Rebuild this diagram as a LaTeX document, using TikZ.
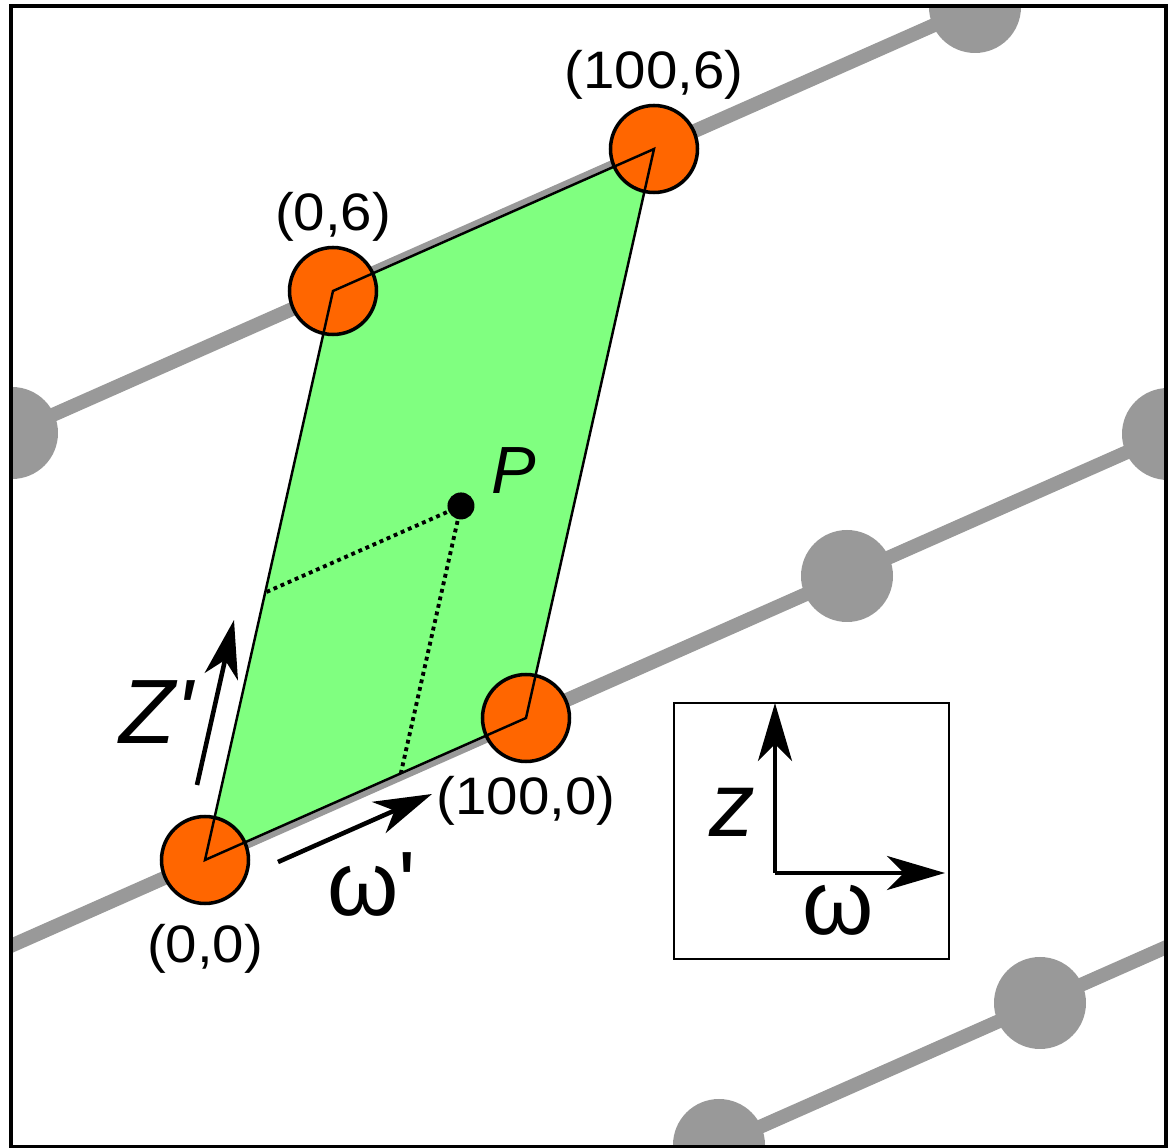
\documentclass[tikz,border=0pt]{standalone}
\usepackage{fontspec}
\setmainfont{Liberation Sans}[Ligatures=TeXOff]
\newfontfamily\coordfont{Liberation Sans}[FakeStretch=1.07, Ligatures=TeXOff]
\usetikzlibrary{arrows.meta, positioning}

\definecolor{latgray}{RGB}{153,153,153}
\definecolor{cellgreen}{RGB}{128,255,128}
\definecolor{siteorange}{RGB}{255,102,0}

\begin{document}
\begin{tikzpicture}[
    lattice line/.style={latgray, line width=0.14cm},
    lattice dot/.style={circle, fill=latgray, inner sep=0pt, minimum size=0.92cm},
    site/.style={circle, draw, line width=1pt, fill=siteorange, inner sep=0pt, minimum size=0.87cm},
    cell edge/.style={line width=0.7pt},
    proj line/.style={line width=1.1pt, dash pattern=on 1.1pt off 1.1pt},
    coord label/.style={inner sep=1pt, font=\coordfont\fontsize{15pt}{18pt}\selectfont},
    axis label/.style={inner sep=0pt, font=\fontsize{26pt}{30pt}\selectfont},
    axis arrow/.style={line width=1.3pt, -{Stealth[length=5.8mm, width=3.4mm, inset=1.7mm]}}
]
\useasboundingbox (0,0) rectangle (11.71,11.48);

% Lattice rows and grey sites, clipped to the frame
\begin{scope}
  \clip (0.11,0.01) rectangle (11.66,11.42);
  \begin{scope}[shift={(2.05,2.88)}, x={(3.21cm,1.42cm)}, y={(1.28cm,5.69cm)}]
    \foreach \j in {-1,0,1}
      \draw[lattice line] (-2,\j) -- (4,\j);
    \foreach \i/\j/\name in {-1/1/ga, 2/1/gb, 2/0/gc, 3/0/gd, 2/-1/ge, 3/-1/gf}
      \node[lattice dot] (\name) at (\i,\j) {};
    % unit cell corners and the point P
    \coordinate (c00) at (0,0);
    \coordinate (c10) at (1,0);
    \coordinate (c01) at (0,1);
    \coordinate (c11) at (1,1);
    \coordinate (pt) at (0.61,0.47);
    \coordinate (pfz) at (0,0.47);
    \coordinate (pfw) at (0.61,0);
  \end{scope}
\end{scope}

% Unit cell
\fill[cellgreen] (c00) -- (c10) -- (c11) -- (c01) -- cycle;
\draw[proj line] (pt) -- (pfz);
\draw[proj line] (pt) -- (pfw);
\node[circle, fill, inner sep=0pt, minimum size=0.27cm] (pdot) at (pt) {};
\node[axis label, font=\fontsize{19pt}{22pt}\selectfont\itshape, above right=0.02cm and 0.2cm of pdot] (plab) {P};

\node[site] (p00) at (c00) {};
\node[site] (p10) at (c10) {};
\node[site] (p01) at (c01) {};
\node[site] (p11) at (c11) {};
\draw[cell edge] (p00.center) -- (p10.center) -- (p11.center) -- (p01.center) -- cycle;

% Labels of the corners
\node[coord label, above=0pt of p01] (l01) {(0,6)};
\node[coord label, above=0pt of p11] (l11) {(100,6)};
\node[coord label, below=0.09cm of p10] (l10) {(100,0)};
\node[coord label, below=0.15cm of p00] (l00) {(0,0)};

% Cell axes
\coordinate (zs) at (1.97,3.63);
\coordinate (ze) at (2.34,5.28);
\coordinate (ws) at (2.78,2.86);
\coordinate (we) at (4.32,3.54);
\draw[axis arrow] (zs) -- (ze);
\draw[axis arrow] (ws) -- (we);
\node[axis label] (zlab) at (1.56,4.36) {\itshape Z'};
\node[axis label] (wlab) at (3.72,2.63) {ω'};

% Inset with the plain axes
\draw[line width=0.8pt] (6.74,1.89) rectangle (9.49,4.45);
\coordinate (ax0) at (7.75,2.75);
\coordinate (axz) at (7.75,4.45);
\coordinate (axw) at (9.45,2.75);
\draw[axis arrow] (ax0) -- (axz);
\draw[axis arrow] (ax0) -- (axw);
\node[axis label] (zax) at (7.32,3.36) {\itshape z};
\node[axis label] (wax) at (8.38,2.38) {ω};

% Frame
\draw[line width=1pt] (0.11,0.01) rectangle (11.66,11.42);

\end{tikzpicture}
\end{document}
